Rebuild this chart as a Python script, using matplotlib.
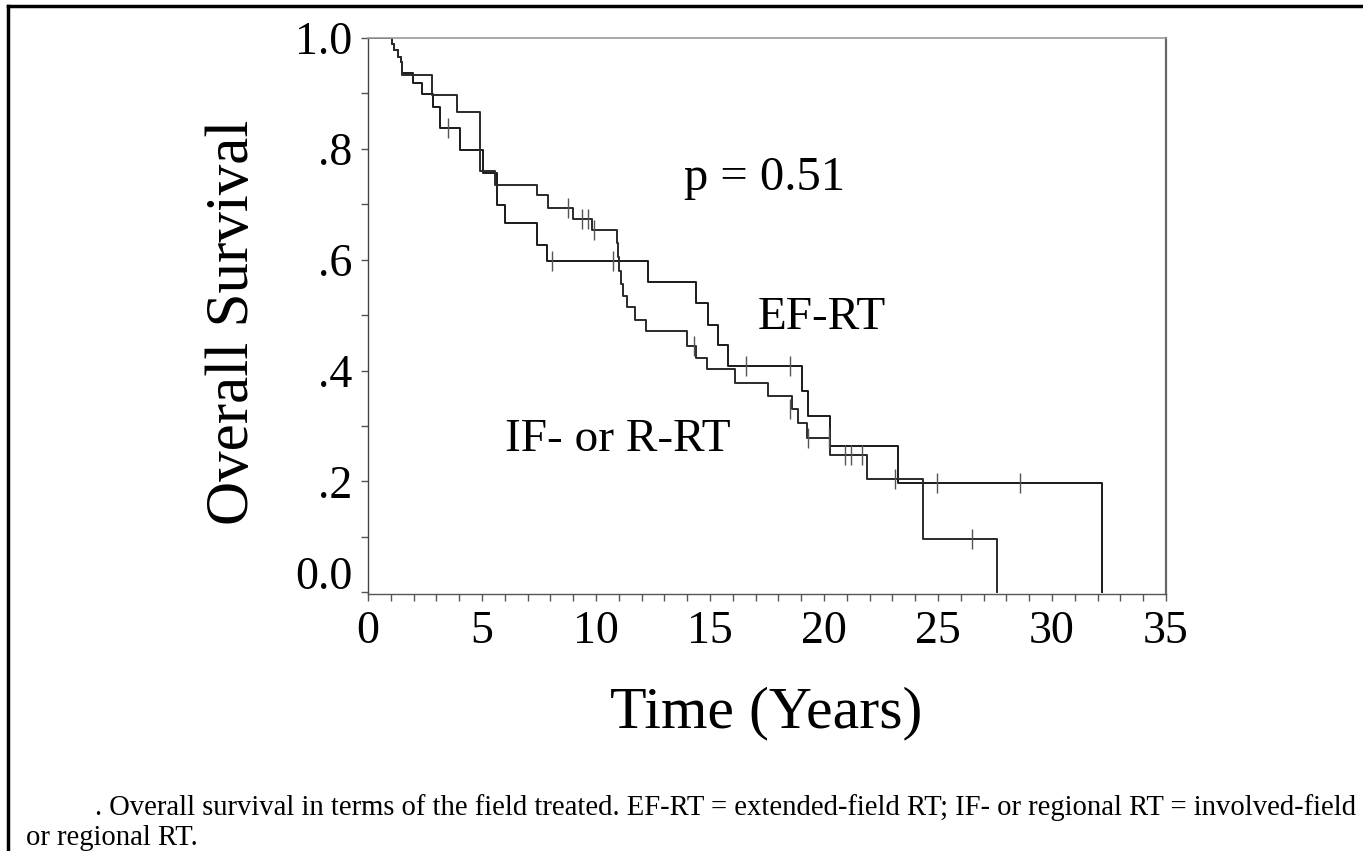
import matplotlib.pyplot as plt
from matplotlib.lines import Line2D
from matplotlib.transforms import ScaledTranslation

# Kaplan-Meier steps (time in years, survival)
ef_time = [0, 1.05, 1.15, 1.3, 1.45, 1.5, 1.99, 2.35, 2.87, 3.16, 4.03, 5.05,
           5.64, 6.0, 7.4, 7.84, 12.3, 14.4, 14.93, 15.37, 15.8, 19.02, 19.3,
           20.26, 23.26, 32.2]
ef_surv = [1.0, 0.99, 0.978, 0.966, 0.957, 0.936, 0.918, 0.899, 0.876, 0.837,
           0.798, 0.756, 0.699, 0.666, 0.627, 0.597, 0.559, 0.522, 0.483,
           0.447, 0.408, 0.363, 0.318, 0.264, 0.198, 0.0]
ef_cens_t = [3.5, 8.05, 10.76, 16.6, 18.5, 24.94, 28.6]
ef_cens_s = [0.837, 0.597, 0.597, 0.408, 0.408, 0.198, 0.198]

if_time = [0, 1.05, 1.15, 1.3, 1.45, 1.5, 2.79, 3.89, 4.91, 5.57, 7.4, 7.9,
           9.0, 9.81, 10.9, 10.97, 11.03, 11.1, 11.2, 11.35, 11.7, 12.2, 14.0,
           14.4, 14.85, 16.1, 17.56, 18.58, 18.87, 19.24, 20.26, 21.9, 24.36,
           27.6]
if_surv = [1.0, 0.99, 0.978, 0.966, 0.957, 0.933, 0.897, 0.867, 0.76, 0.735,
           0.717, 0.693, 0.673, 0.653, 0.63, 0.605, 0.58, 0.557, 0.534, 0.514,
           0.492, 0.471, 0.445, 0.423, 0.402, 0.378, 0.355, 0.33, 0.305,
           0.279, 0.247, 0.204, 0.097, 0.0]
if_cens_t = [8.79, 9.4, 9.65, 9.9, 14.3, 18.5, 19.3, 20.2, 20.9, 21.2, 21.65,
             23.1, 26.5]
if_cens_s = [0.693, 0.673, 0.673, 0.653, 0.445, 0.33, 0.279, 0.279, 0.247,
             0.247, 0.247, 0.204, 0.097]

x_ticks = [0, 5, 10, 15, 20, 25, 30, 35]
y_ticks = [0.0, 0.2, 0.4, 0.6, 0.8, 1.0]
y_labels = ['0.0', '.2', '.4', '.6', '.8', '1.0']

caption1 = ". Overall survival in terms of the field treated. EF-RT = extended-field RT; IF- or regional RT = involved-field"
caption2 = "or regional RT."

plt.rcParams['font.family'] = ['Liberation Serif', 'DejaVu Serif']

fig = plt.figure(figsize=(13.63, 8.51), dpi=100)
ax = fig.add_axes([368 / 1363, 1 - 594 / 851, 798 / 1363, 556 / 851])

ax.step(ef_time, ef_surv, where='post', color='#1a1a1a', lw=1.4)
ax.step(if_time, if_surv, where='post', color='#2a2a2a', lw=1.4)
ax.plot(ef_cens_t, ef_cens_s, ls='none', marker='|', ms=14, mew=1, color='#555555')
ax.plot(if_cens_t, if_cens_s, ls='none', marker='|', ms=14, mew=1, color='#555555')

ax.set_xlim(0, 35)
ax.set_ylim(-0.003, 1.0)
ax.set_xticks(x_ticks)
ax.set_xticks(range(0, 36), minor=True)
ax.set_yticks(y_ticks)
ax.set_yticklabels(y_labels)
ax.set_yticks([0.1, 0.3, 0.5, 0.7, 0.9], minor=True)
ax.tick_params(axis='both', which='both', direction='out', length=5,
               width=1, color='#555555', labelsize=33)
ax.tick_params(axis='x', pad=7)
ax.tick_params(axis='y', pad=6)

for name, col, w in [('left', '#444444', 1.0), ('bottom', '#555555', 1.0),
                     ('top', '#999999', 1.2), ('right', '#666666', 1.6)]:
    ax.spines[name].set_color(col)
    ax.spines[name].set_linewidth(w)

# the 0.0 label sits higher than its tick in the original
lab0 = ax.get_yticklabels()[0]
lab0.set_transform(lab0.get_transform() + ScaledTranslation(0, 0.2, fig.dpi_scale_trans))

ax.text(17.4, 0.748, 'p = 0.51', fontsize=35, ha='center', va='center')
ax.text(19.9, 0.495, 'EF-RT', fontsize=34, ha='center', va='center')
ax.text(10.97, 0.276, 'IF- or R-RT', fontsize=34, ha='center', va='center')

fig.text(233 / 1363, 1 - 322 / 851, 'Overall Survival', fontsize=44,
         rotation=90, ha='center', va='center')
fig.text(766 / 1363, 1 - 713 / 851, 'Time (Years)', fontsize=43,
         ha='center', va='center')

fig.text(95 / 1363, 1 - 808 / 851, caption1, fontsize=20.6, ha='left', va='center')
fig.text(26 / 1363, 1 - 838 / 851, caption2, fontsize=20.6, ha='left', va='center')

# frame around the figure (only left and top edges are visible)
fig.add_artist(Line2D([8 / 1363, 8 / 1363], [0, 1 - 6 / 851], color='black', lw=2.5))
fig.add_artist(Line2D([8 / 1363, 1], [1 - 6 / 851, 1 - 6 / 851], color='black', lw=2.5))

fig.savefig('out.png', dpi=100)
